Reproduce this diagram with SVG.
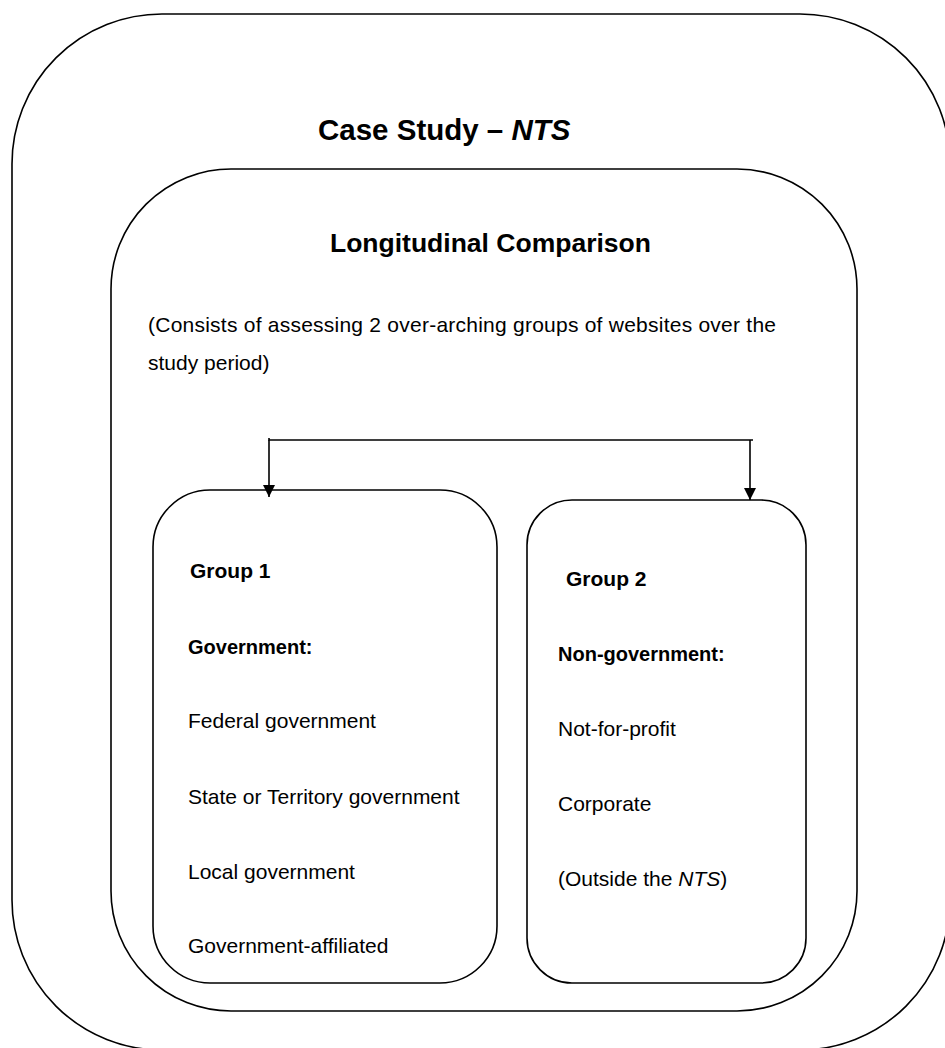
<svg xmlns="http://www.w3.org/2000/svg" width="945" height="1048" viewBox="0 0 945 1048">
<style>
.box{fill:none;stroke:#000;stroke-width:1.6}
.t{font-family:"Liberation Sans",Arial,sans-serif;font-size:21px;fill:#000}
.b{font-weight:bold}
.h1{font-size:29.5px}
.h2{font-size:26.5px}
.h4{font-size:20px}
.conn{fill:none;stroke:#000;stroke-width:1.6}
</style>
<defs>
<marker id="arr" viewBox="0 0 12 12" refX="12" refY="6" markerWidth="12" markerHeight="12" markerUnits="userSpaceOnUse" orient="auto">
<path d="M0,0 L12,6 L0,12 Z" fill="#000"/>
</marker>
</defs>
<rect width="945" height="1048" fill="#fff"/>
<g id="case-study">
<rect class="box" x="12" y="14" width="938" height="1036" rx="150" ry="150"/>
<text class="t b h1" x="318" y="140">Case Study – <tspan font-style="italic">NTS</tspan></text>
</g>
<g id="longitudinal">
<rect class="box" x="111" y="169" width="746" height="842" rx="120" ry="120"/>
<text class="t b h2" x="330" y="252">Longitudinal Comparison</text>
<text class="t" x="148" y="332" textLength="628" lengthAdjust="spacing">(Consists of assessing 2 over-arching groups of websites over the</text>
<text class="t" x="148" y="370">study period)</text>
</g>
<g id="connectors">
<path class="conn" d="M269,438 V440 H753"/>
<path class="conn" d="M269,440 V497" marker-end="url(#arr)"/>
<path class="conn" d="M750,440 V500" marker-end="url(#arr)"/>
</g>
<g id="group1">
<rect class="box" x="153" y="490" width="344" height="493" rx="57" ry="57"/>
<text class="t b" x="190" y="578">Group 1</text>
<text class="t b h4" x="188" y="654">Government:</text>
<text class="t" x="188" y="728">Federal government</text>
<text class="t" x="188" y="804">State or Territory government</text>
<text class="t" x="188" y="879">Local government</text>
<text class="t" x="188" y="953">Government-affiliated</text>
</g>
<g id="group2">
<rect class="box" x="527" y="500" width="279" height="483" rx="45" ry="45"/>
<text class="t b" x="566" y="586">Group 2</text>
<text class="t b h4" x="558" y="661">Non-government:</text>
<text class="t" x="558" y="736">Not-for-profit</text>
<text class="t" x="558" y="811">Corporate</text>
<text class="t" x="558" y="886">(Outside the <tspan font-style="italic">NTS</tspan>)</text>
</g>
</svg>
